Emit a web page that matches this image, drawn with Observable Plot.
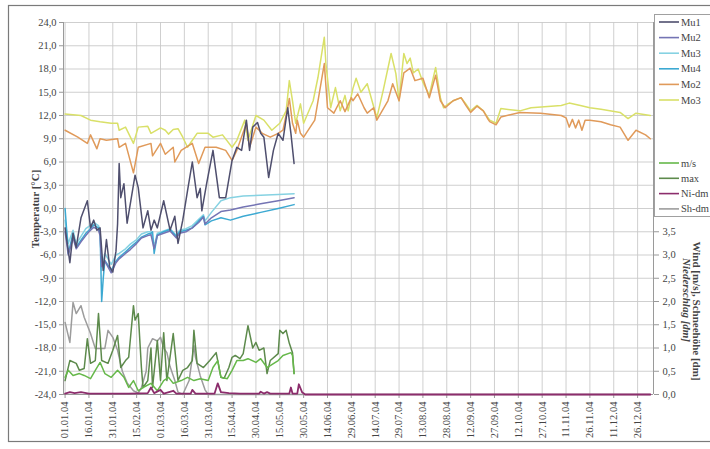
<!DOCTYPE html>
<html><head><meta charset="utf-8">
<script src="https://cdn.jsdelivr.net/npm/d3@7"></script>
<script src="https://cdn.jsdelivr.net/npm/@observablehq/plot@0.6"></script>
<style>body{margin:0;background:#fff;} svg{display:block} svg text{font-family:'Liberation Serif','DejaVu Serif',serif !important;}</style>
</head><body><div id="chart"></div>
<script>
// x tick labels (every 15 days from 01.01.04)
const tickLabels = ["01.01.04","16.01.04","31.01.04","15.02.04","01.03.04","16.03.04","31.03.04","15.04.04","30.04.04","15.05.04","30.05.04","14.06.04","29.06.04","14.07.04","29.07.04","13.08.04","28.08.04","12.09.04","27.09.04","12.10.04","27.10.04","11.11.04","26.11.04","11.12.04","26.12.04"];
const tickDays = tickLabels.map((_, i) => i * 15);
const tempTicks = [-24,-21,-18,-15,-12,-9,-6,-3,0,3,6,9,12,15,18,21,24];
const windTicks = [0,0.5,1,1.5,2,2.5,3,3.5];

// temperature series [day of year, °C]
const mu1 = [[0,-2.5],[3,-7.0],[5,-3.2],[7,-5.0],[10,-1.2],[14,1.0],[16,-2.5],[18,-1.5],[20,-2.8],[22,-2.5],[24,-8],[26,-4],[28,-7.5],[30,-8.2],[32,-5.5],[33,-2],[34,5.8],[35,1.4],[37,3.2],[39,-1.9],[44,4.3],[46,2.7],[49,-2.5],[52,-0.3],[54,-2.8],[56,-1.5],[58,-2.5],[62,1.0],[66,-2.8],[69,-1.0],[71,-4.5],[74,-1.5],[77,2.3],[80,6.0],[83,1.4],[85,2.6],[86,-0.3],[89,3.2],[93,7.5],[97,1.4],[101,1.4],[105,6.2],[108,7.9],[111,7.5],[114,11.4],[116,7.5],[118,10.5],[121,11.1],[123,9.7],[125,9.2],[128,4.0],[131,7.5],[134,9.7],[137,8.8],[140,13.0],[142,9.7],[144,5.8]];
const mu2 = [[0,-3],[2,-6],[5,-3.8],[7,-5.2],[10,-4.3],[13,-3.5],[15,-3],[18,-2.4],[21,-2.8],[22,-3.5],[23,-7.5],[25,-6.8],[29,-8.3],[32,-7],[34,-6.5],[38,-5.8],[41,-5.3],[45,-4.5],[48,-3.8],[52,-3.5],[54,-3.4],[56,-5.2],[58,-3.5],[62,-3.2],[66,-2.9],[70,-3.8],[72,-3.2],[76,-3],[80,-2.5],[84,-1.8],[87,-1.1],[88,-2],[92,-1.2],[98,-0.4],[104,-0.2],[112,0.2],[123,0.6],[134,1.0],[144,1.4]];
const mu3 = [[0,-1.5],[2,-4.5],[5,-2.8],[7,-4.6],[10,-3.6],[13,-2.6],[15,-2.3],[18,-1.8],[21,-2.2],[22,-2.8],[23,-8],[25,-5.8],[29,-7.2],[32,-6],[34,-5.8],[38,-5.2],[41,-4.6],[45,-4],[48,-3.3],[52,-3],[54,-3],[56,-4.8],[58,-3.2],[62,-2.9],[66,-2.6],[70,-3.5],[72,-2.8],[76,-2.6],[80,-2.2],[84,-1.4],[87,-0.8],[88,-1.6],[92,-0.5],[98,1.0],[104,1.4],[112,1.6],[123,1.7],[134,1.8],[144,1.9]];
const mu4 = [[0,0],[1,-2.8],[2,-5.8],[5,-3.2],[7,-5],[10,-4.1],[13,-3.2],[15,-2.8],[18,-2.1],[21,-2.5],[22,-3],[23,-12],[24,-9],[25,-6.7],[29,-8],[32,-6.8],[34,-6.3],[38,-5.6],[41,-5],[45,-4.3],[48,-3.7],[52,-3.3],[54,-3.2],[55,-3],[56,-5.8],[58,-3.4],[62,-3],[66,-2.7],[70,-3.6],[72,-3],[76,-2.8],[80,-2.5],[84,-1.6],[87,-1],[88,-2.1],[92,-1.6],[98,-1.2],[104,-1.5],[112,-1.0],[123,-0.5],[134,0],[144,0.5]];
const mo2 = [[0,10.1],[8,9.2],[14,8.4],[16,9.5],[20,7.7],[22,9.0],[26,8.8],[33,9.0],[34,7.9],[38,8.4],[43,4.6],[46,7.9],[54,8.4],[55,6.8],[60,8.4],[63,7.0],[68,7.9],[69,6.0],[73,7.5],[80,8.4],[84,5.8],[88,7.9],[95,7.9],[101,7.5],[105,6.2],[108,7.5],[114,11.0],[116,7.9],[120,10.5],[124,9.7],[129,9.2],[134,9.7],[137,10.1],[140,13.0],[141,14.2],[143,11.0],[145,9.7],[146,11.4],[148,9.7],[150,9.2],[157,11.4],[163,18.7],[165,13.0],[169,12.3],[173,13.9],[176,12.5],[180,14.3],[181,13.9],[184,14.8],[188,13.0],[190,12.3],[194,13.0],[196,11.4],[203,13.9],[206,16.1],[210,13.9],[213,17.5],[217,18.1],[220,16.5],[225,16.8],[229,14.3],[233,17.2],[236,13.9],[239,13.0],[244,13.9],[249,14.3],[252,13.3],[255,12.4],[259,13.2],[263,12.6],[266,11.5],[267,11.2],[271,10.8],[274,11.8],[286,12.4],[299,12.3],[312,12.0],[315,11.7],[317,10.5],[319,11.5],[321,10.4],[323,11.4],[325,10.1],[327,11.4],[330,11.4],[337,11.2],[343,10.8],[349,10.5],[354,8.8],[359,10.1],[365,9.5],[368,9.0]];
const mo3 = [[0,12.2],[10,12.0],[16,11.4],[22,11.2],[29,11.0],[33,11.0],[34,10.1],[38,10.5],[43,8.4],[46,10.5],[52,10.6],[54,9.7],[60,10.4],[63,10.1],[65,9.6],[68,10.2],[71,10.3],[74,9.2],[77,7.9],[83,9.7],[90,9.7],[93,9.2],[99,9.5],[105,7.9],[108,8.8],[113,11.4],[115,8.8],[120,12.0],[125,11.4],[130,10.1],[135,11.0],[139,12.6],[141,16.5],[143,13.9],[145,11.0],[148,13.5],[150,11.0],[156,13.9],[159,16.9],[163,22.1],[164,18.7],[167,13.0],[170,15.6],[173,12.6],[176,14.6],[178,12.6],[181,15.5],[183,16.8],[186,15.0],[190,16.1],[193,13.9],[196,11.7],[200,15.2],[205,20.0],[208,17.4],[210,13.9],[213,20.0],[215,18.7],[217,19.4],[219,17.5],[222,18.0],[225,16.3],[229,14.6],[233,18.2],[236,14.3],[238,13.0],[241,13.5],[244,13.9],[249,14.3],[252,13.5],[255,12.6],[259,13.3],[263,12.6],[266,11.7],[267,11.4],[271,11.0],[274,12.9],[286,12.6],[293,13.0],[312,13.3],[317,13.6],[324,13.3],[330,13.0],[337,12.8],[349,12.4],[354,11.6],[359,12.3],[368,12.0]];

// wind / snow / precipitation series [day of year, m/s or dm]
const windMean = [[0,0.37],[2,0.52],[5,0.41],[9,0.45],[12,0.41],[16,0.34],[19,0.52],[22,0.69],[25,0.45],[29,0.37],[33,0.52],[37,0.37],[40,0.15],[43,0.3],[46,0.08],[49,0.15],[54,0.24],[58,0.08],[62,0.3],[65,0.37],[68,0.24],[73,0.3],[77,0.37],[81,0.3],[85,0.34],[90,0.3],[93,0.58],[96,0.73],[98,0.37],[102,0.34],[105,0.52],[108,0.73],[112,0.73],[115,0.77],[120,0.69],[123,0.77],[127,0.58],[129,0.62],[134,0.73],[137,0.84],[142,0.9],[143,0.84],[144,0.45]];
const windMax = [[0,0.3],[3,0.73],[7,0.67],[9,0.52],[12,0.56],[14,1.2],[16,0.67],[19,0.73],[21,1.74],[23,0.73],[27,0.67],[30,0.95],[33,1.27],[35,0.58],[38,0.73],[40,0.8],[43,1.91],[44,1.6],[46,1.74],[48,0.58],[49,0.15],[52,0.3],[54,1.0],[55,0.15],[58,1.16],[60,0.3],[62,1.33],[64,0.3],[68,1.31],[71,0.3],[74,0.52],[77,0.58],[80,0.73],[81,1.38],[83,0.67],[87,0.58],[91,0.73],[95,0.9],[98,0.37],[100,0.35],[103,0.58],[105,0.8],[107,0.84],[110,0.77],[112,0.88],[115,1.48],[118,1.0],[120,1.12],[122,0.95],[125,1.0],[127,0.45],[129,0.73],[134,0.88],[135,1.38],[137,1.31],[139,1.38],[141,1.1],[143,0.9],[144,0.45]];
const niDm = [[0,0.02],[3,0.05],[6,0.03],[10,0.05],[15,0.02],[40,0.02],[52,0.03],[54,0.15],[56,0.03],[60,0.1],[62,0.02],[68,0.08],[70,0.02],[79,0.02],[80,0.1],[82,0.02],[94,0.02],[96,0.24],[98,0.05],[103,0.03],[110,0.02],[122,0.02],[123,0.06],[125,0.02],[127,0.05],[129,0.02],[141,0.02],[142,0.15],[143,0.02],[146,0.02],[147,0.22],[149,0.05],[151,0],[368,0]];
const shDm = [[0,1.55],[3,1.12],[5,1.98],[7,1.74],[10,1.91],[12,1.66],[16,1.31],[19,0.99],[25,0.99],[27,1.38],[30,1.23],[33,0.95],[36,0.5],[39,0.25],[43,0.08],[46,0.03],[48,0.15],[51,0.5],[52,1.0],[55,1.2],[58,1.15],[60,1.23],[62,1.0],[64,0.9],[66,0.6],[69,0.3],[71,0.05],[74,0],[78,0.3],[81,1.05],[82,0.8],[85,0.4],[88,0.1],[90,0],[368,0]];

const tempSeries = [
  {name: "Mu1", color: "#4f4f6e", data: mu1},
  {name: "Mu2", color: "#7474b4", data: mu2},
  {name: "Mu3", color: "#86d2e2", data: mu3},
  {name: "Mu4", color: "#3ca9d2", data: mu4},
  {name: "Mo2", color: "#e09a5a", data: mo2},
  {name: "Mo3", color: "#d9e068", data: mo3}
];
const windSeries = [
  {name: "m/s", color: "#66b84a", data: windMean},
  {name: "max", color: "#5d8a4c", data: windMax},
  {name: "Ni-dm", color: "#8c2d6c", data: niDm},
  {name: "Sh-dm", color: "#9c9c9c", data: shDm}
];

const FONT = "'Liberation Serif', 'DejaVu Serif', serif";
const w2t = w => -24 + 6 * w;
const fmt = v => v.toFixed(1).replace(".", ",");

const lineMarks = [];
[windSeries[3], windSeries[1], windSeries[0], windSeries[2]].forEach(s => {
  lineMarks.push(Plot.line(s.data.map(([d, v]) => ({d, v: w2t(v)})), {x: "d", y: "v", stroke: s.color, strokeWidth: s.name === "Ni-dm" ? 1.8 : 1.5}));
});
[tempSeries[5], tempSeries[4], tempSeries[2], tempSeries[3], tempSeries[1], tempSeries[0]].forEach(s => {
  lineMarks.push(Plot.line(s.data.map(([d, v]) => ({d, v})), {x: "d", y: "v", stroke: s.color, strokeWidth: 1.5}));
});

const axisStyle = {fontSize: 10.5, fontFamily: FONT, label: null, stroke: "#999", fill: "#444"};
const plot = Plot.plot({
  width: 710, height: 449,
  marginLeft: 63, marginRight: 57, marginTop: 22, marginBottom: 55,
  style: {fontFamily: FONT, fontSize: "10.5px", background: "#fff", color: "#444"},
  x: {domain: [-1, 370], axis: null},
  y: {domain: [-24, 24], axis: null},
  marks: [
    Plot.ruleX(tickDays, {stroke: "#cacaca", strokeWidth: 0.9}),
    Plot.ruleY(tempTicks, {stroke: "#cacaca", strokeWidth: 0.9}),
    Plot.ruleX([-1, 370], {stroke: "#9a9a9a", strokeWidth: 1}),
    Plot.ruleY([-24], {stroke: "#9a9a9a", strokeWidth: 1}),
    Plot.axisX({ticks: tickDays, tickFormat: d => tickLabels[tickDays.indexOf(d)], tickRotate: -90, tickSize: 4, tickPadding: 3, ...axisStyle}),
    Plot.axisY({anchor: "left", ticks: tempTicks, tickFormat: fmt, tickSize: 4, tickPadding: 3, ...axisStyle}),
    Plot.axisY({anchor: "right", ticks: windTicks.map(w2t), tickFormat: t => fmt((t + 24) / 6), tickSize: 5, tickPadding: 4, ...axisStyle}),
    ...lineMarks
  ]
});
document.getElementById("chart").appendChild(plot);

const svg = d3.select(plot);
svg.append("rect").attr("x", 8.5).attr("y", 5.5).attr("width", 705).attr("height", 436)
  .attr("fill", "none").attr("stroke", "#7a7a7a").attr("stroke-width", 1.2);

const addText = (tr, txt, opts = {}) => svg.append("text").attr("transform", tr)
  .attr("text-anchor", opts.anchor || "middle").attr("font-family", FONT)
  .attr("font-weight", opts.weight || "normal").attr("font-style", opts.style || "normal")
  .attr("font-size", opts.size || 11).attr("fill", "#444").text(txt);

addText("translate(39,209) rotate(-90)", "Temperatur [°C]", {weight: "bold"});
addText("translate(693,311) rotate(90)", "Wind [m/s], Schneehöhe [dm]", {weight: "bold"});
addText("translate(683,300) rotate(90)", "Niederschlag [dm]", {weight: "bold", style: "italic"});

// legend
const lg = svg.append("g");
lg.append("rect").attr("x", 654.5).attr("y", 14.5).attr("width", 58).attr("height", 202)
  .attr("fill", "#fff").attr("stroke", "#a0a0a0");
const legendItems = [
  ...tempSeries.map((s, i) => ({...s, y: 22 + i * 15.6})),
  ...windSeries.map((s, i) => ({...s, y: 163 + i * 15.3}))
];
legendItems.forEach(s => {
  lg.append("line").attr("x1", 659).attr("x2", 679).attr("y1", s.y).attr("y2", s.y)
    .attr("stroke", s.color).attr("stroke-width", 1.6);
  lg.append("text").attr("x", 681).attr("y", s.y + 3.5).attr("text-anchor", "start")
    .attr("font-family", FONT).attr("font-size", 10.5).attr("fill", "#444").text(s.name);
});
</script>
</body></html>
